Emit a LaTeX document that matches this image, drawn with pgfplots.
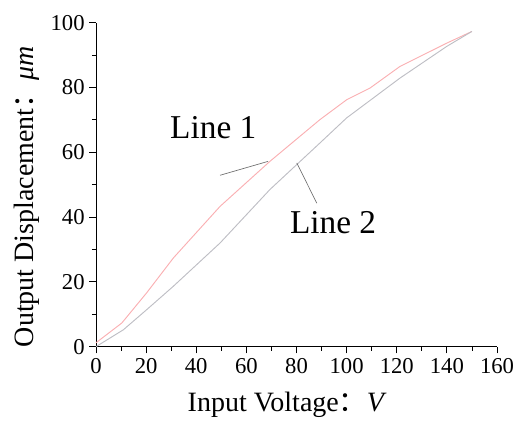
\documentclass[border=0pt]{standalone}
\usepackage{fontspec}
\setmainfont{Liberation Serif}
\newfontfamily\cjk{Noto Sans CJK SC}
\usepackage{pgfplots}
\pgfplotsset{compat=1.18}
\definecolor{lineone}{RGB}{250,175,178}
\definecolor{linetwo}{RGB}{190,190,196}
\definecolor{leader}{RGB}{110,110,110}

\begin{document}
\begin{tikzpicture}
\begin{axis}[
  scale only axis,
  width=300.75pt, height=243pt,
  xmin=0, xmax=160, ymin=0, ymax=100,
  axis x line*=bottom, axis y line*=left,
  axis line style={-, black, line width=0.6pt},
  xtick={0,20,...,160}, ytick={0,20,...,100},
  minor x tick num=1, minor y tick num=1,
  tick align=outside,
  major tick length=5pt, minor tick length=3pt,
  tick style={black, line width=0.6pt},
  ticklabel style={font=\rmfamily\fontsize{17}{18}\selectfont},
  /pgf/number format/assume math mode=true,
  xlabel={Input Voltage{\cjk ：}\textit{V}},
  ylabel={Output Displacement{\cjk ：}\textit{μm}},
  label style={font=\rmfamily\fontsize{21}{22}\selectfont},
  xlabel style={at={(axis description cs:0.5,0)}, anchor=center, yshift=-43.5pt, xshift=-7pt},
  ylabel style={at={(axis description cs:0,0.5)}, anchor=center, yshift=52pt, xshift=-9pt},
  clip=false,
]
\addplot[lineone, line width=0.7pt] coordinates {
 (0,1.2) (10.3,7.3) (20.2,16.6) (30.9,27.4) (49.5,43.3) (69.4,57.2)
 (89.4,70.1) (100,76.2) (109.3,79.8) (121.3,86.5) (140,93.7) (150,97.3)};
\addplot[linetwo, line width=0.7pt] coordinates {
 (0,0) (10.9,5.2) (20.2,11.4) (30.8,18.6) (49.5,32) (69.4,48.5)
 (89.4,62.9) (100,70.6) (121.3,82.9) (140,92.7) (150,97.3)};
\draw[leader, line width=0.5pt] (axis cs:49.5,52.9) -- (axis cs:68.7,57.2);
\draw[leader, line width=0.5pt] (axis cs:80.1,56.7) -- (axis cs:88.1,44.3);
\node[font=\rmfamily\fontsize{25}{27}\selectfont] at (axis cs:46.8,67.6) {Line 1};
\node[font=\rmfamily\fontsize{25}{27}\selectfont] at (axis cs:94.6,38.3) {Line 2};
\coordinate (ll) at (rel axis cs:0,0);
\coordinate (ur) at (rel axis cs:1,1);
\end{axis}
\pgfresetboundingbox
\path (ll) ++(-72pt,-56pt) coordinate (bbl);
\path (ur) ++(13.5pt,17pt) coordinate (bbr);
\useasboundingbox (bbl) rectangle (bbr);
\end{tikzpicture}
\end{document}
